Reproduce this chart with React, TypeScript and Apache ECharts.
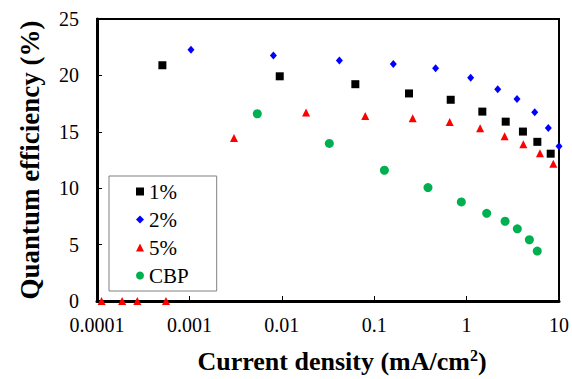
import React, { useEffect, useRef } from "react";
import * as echarts from "echarts";

const seriesNames = ["1%", "2%", "5%", "CBP"];

const x1 = [0.00051, 0.0095, 0.0625, 0.238, 0.673, 1.48, 2.65, 4.07, 5.83, 8.13];
const y1 = [20.9, 19.92, 19.22, 18.4, 17.84, 16.79, 15.9, 15.02, 14.11, 13.06];

const x2 = [0.00104, 0.0081, 0.042, 0.161, 0.462, 1.106, 2.17, 3.51, 5.46, 7.66, 10.0];
const y2 = [22.27, 21.77, 21.33, 21.0, 20.63, 19.8, 18.78, 17.9, 16.73, 15.34, 13.73];

const x5 = [0.000112, 0.000187, 0.000273, 0.000558, 0.00304, 0.0183, 0.08, 0.261, 0.656, 1.4, 2.58, 4.11, 6.22, 8.68];
const y5 = [0, 0, 0, 0, 14.44, 16.7, 16.4, 16.2, 15.87, 15.32, 14.6, 13.9, 13.09, 12.17];

const xC = [0.00543, 0.0327, 0.129, 0.382, 0.877, 1.65, 2.61, 3.54, 4.78, 5.82];
const yC = [16.6, 13.97, 11.59, 10.06, 8.78, 7.77, 7.07, 6.4, 5.43, 4.43];

const xTickLabels = ["0.0001", "0.001", "0.01", "0.1", "1", "10"];
const yTicks = [0, 5, 10, 15, 20, 25];

const FONT = "Liberation Serif";

function pairs(xs: number[], ys: number[]) {
  return xs.map((x, i) => [x, ys[i]]);
}

export default function App() {
  const ref = useRef<HTMLDivElement>(null);
  useEffect(() => {
    if (!ref.current) return;
    const chart = echarts.init(ref.current, null, { renderer: "svg" });
    chart.setOption({
      animation: false,
      backgroundColor: "#fff",
      textStyle: { fontFamily: FONT },
      grid: {
        left: 97,
        right: 13,
        top: 19,
        bottom: 76,
        show: true,
        borderColor: "#000",
        borderWidth: 2,
        backgroundColor: "transparent",
      },
      legend: {
        orient: "vertical",
        left: 109,
        top: 176,
        data: seriesNames,
        padding: [5, 28, 5, 27],
        itemWidth: 8,
        itemHeight: 8,
        itemGap: 7,
        borderColor: "#808080",
        borderWidth: 1,
        backgroundColor: "#fff",
        textStyle: { fontFamily: FONT, fontSize: 21, color: "#000", lineHeight: 20 },
      },
      xAxis: {
        type: "log",
        logBase: 10,
        min: 0.0001,
        max: 10,
        axisLine: { lineStyle: { color: "#000", width: 3 } },
        axisTick: { inside: true, length: 5, lineStyle: { color: "#000", width: 1 } },
        minorTick: { show: false },
        splitLine: { show: false },
        axisLabel: {
          color: "#000",
          fontSize: 20,
          fontFamily: FONT,
          margin: 14,
          formatter: (v: number) => {
            const i = Math.round(Math.log10(v)) + 4;
            return xTickLabels[i] ?? "";
          },
        },
        name: "{a|Current density (mA/cm}{s|2}{a|)}",
        nameLocation: "middle",
        nameGap: 46,
        nameTextStyle: {
          padding: [0, 0, 0, 28],
          rich: {
            a: { fontSize: 26, fontWeight: "bold", fontFamily: FONT, color: "#000", lineHeight: 28 },
            s: { fontSize: 16, fontWeight: "bold", fontFamily: FONT, color: "#000", lineHeight: 28, verticalAlign: "top", padding: [0, 0, 10, 0] },
          },
        },
      },
      yAxis: {
        type: "value",
        min: 0,
        max: 25,
        interval: 5,
        axisLine: { show: true, lineStyle: { color: "#000", width: 3 } },
        axisTick: { show: true, inside: true, length: 5, lineStyle: { color: "#000", width: 1 } },
        splitLine: { show: false },
        axisLabel: {
          color: "#000",
          fontSize: 20,
          fontFamily: FONT,
          margin: 18,
          formatter: (v: number) => (yTicks.includes(v) ? String(v) : ""),
        },
        name: "Quantum efficiency (%)",
        nameLocation: "middle",
        nameGap: 54,
        nameTextStyle: { fontSize: 27, fontWeight: "bold", fontFamily: FONT, color: "#000" },
      },
      series: [
        { name: "1%", type: "scatter", symbol: "rect", symbolSize: 8, clip: false, itemStyle: { color: "#000", opacity: 1 }, data: pairs(x1, y1) },
        { name: "2%", type: "scatter", symbol: "diamond", symbolSize: [7, 8], clip: false, itemStyle: { color: "#0000ff", opacity: 1 }, data: pairs(x2, y2) },
        { name: "5%", type: "scatter", symbol: "triangle", symbolSize: 8, clip: false, itemStyle: { color: "#ff0000", opacity: 1 }, data: pairs(x5, y5) },
        { name: "CBP", type: "scatter", symbol: "circle", symbolSize: 9, clip: false, itemStyle: { color: "#00b050", opacity: 1 }, data: pairs(xC, yC) },
      ],
    });
    return () => chart.dispose();
  }, []);
  return <div ref={ref} style={{ width: 572, height: 379, position: "absolute", left: 0, top: 0 }} />;
}
